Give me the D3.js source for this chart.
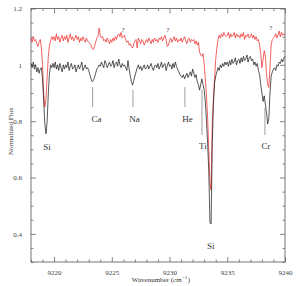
<html>

<head>
    <meta charset="UTF-8">
    <script src="https://d3js.org/d3.v7.min.js"></script>
    <style>
        body { margin: 0; background: #fff; }
        text { font-family: "Liberation Serif", "DejaVu Serif", serif; }
    </style>
</head>

<body>
</body>
<script>
    // spectrum sampled every 0.1 cm^-1 from 9218
    var wnStart = 9218, wnStep = 0.1;

    // lower spectrum (black)
    var blackFlux = [
        1.005, 0.99, 1.01, 0.985, 1.0, 0.975, 0.99, 0.97, 0.985, 0.99,
        0.95, 0.87, 0.79, 0.755, 0.80, 0.90, 0.97, 1.0, 0.99, 1.005,
        0.99, 1.01, 0.985, 1.0, 0.98, 1.005, 0.99, 0.975, 1.0, 0.985,
        1.0, 0.99, 1.01, 0.98, 0.995, 1.005, 0.985, 0.99, 1.0, 0.975,
        0.99, 1.0, 0.985, 0.995, 1.01, 0.98, 0.99, 1.0, 0.985, 0.99,
        0.98, 0.965, 0.95, 0.94, 0.945, 0.955, 0.97, 0.985, 0.99, 1.0,
        0.995, 1.01, 1.0, 0.99, 1.015, 1.005, 0.99, 1.0, 1.01, 0.995,
        1.0, 1.015, 0.99, 1.005, 1.01, 0.995, 1.02, 1.0, 0.99, 1.005,
        0.995, 1.0, 0.99, 0.98, 1.015, 0.985, 0.96, 0.94, 0.928, 0.945,
        0.96, 0.975, 0.99, 1.0, 0.985, 0.995, 0.98, 0.99, 1.0, 0.985,
        0.99, 1.0, 0.985, 0.995, 1.005, 0.99, 0.98, 0.995, 1.0, 0.99,
        1.005, 0.985, 0.995, 1.01, 0.99, 1.0, 1.005, 0.98, 0.995, 1.01,
        0.995, 1.0, 0.985, 1.005, 0.99, 1.01, 0.995, 0.985, 0.975, 0.965,
        0.96, 0.955, 0.965, 0.95, 0.96, 0.97, 0.955, 0.965, 0.975, 0.96,
        0.985, 0.97, 0.955, 0.965, 0.94, 0.93, 0.91, 0.93, 0.95, 0.93,
        0.91, 0.87, 0.80, 0.72, 0.62, 0.44, 0.435, 0.72, 0.86, 0.935,
        0.96, 0.975, 0.99, 0.98, 1.0, 0.99, 1.005, 0.995, 1.01, 1.0,
        1.01, 0.995, 1.015, 1.0, 1.02, 1.005, 1.01, 1.025, 1.0, 1.015,
        1.02, 1.005, 1.025, 1.01, 1.03, 1.015, 1.02, 1.035, 1.01, 1.025,
        1.03, 1.015, 1.02, 1.0, 1.01, 0.995, 1.005, 0.98, 0.965, 0.93,
        0.90, 0.87, 0.89, 0.86, 0.83, 0.79, 0.81, 0.90, 0.96, 0.975,
        0.985, 0.99, 0.98, 1.0, 0.995, 1.01, 1.005, 1.02, 1.01, 1.025,
        1.03
    ];

    // upper spectrum (red)
    var redFlux = [
        1.095, 1.08, 1.1, 1.085, 1.09, 1.075, 1.065, 1.08, 1.09, 1.06,
        1.0, 0.9, 0.85, 0.88, 0.96, 1.03, 1.07, 1.085, 1.1, 1.09,
        1.1, 1.085, 1.11, 1.09, 1.1, 1.08, 1.095, 1.105, 1.085, 1.1,
        1.09, 1.105, 1.08, 1.095, 1.11, 1.09, 1.1, 1.085, 1.095, 1.105,
        1.09, 1.1, 1.08, 1.095, 1.085, 1.1, 1.09, 1.08, 1.095, 1.085,
        1.08, 1.075, 1.07, 1.06, 1.055, 1.065, 1.08, 1.095, 1.1, 1.13,
        1.105, 1.095, 1.1, 1.085, 1.09, 1.08, 1.095, 1.085, 1.075, 1.09,
        1.08, 1.095, 1.085, 1.1, 1.09, 1.105, 1.11, 1.1, 1.115, 1.095,
        1.1, 1.105, 1.09, 1.08, 1.085, 1.07, 1.075, 1.065, 1.06, 1.075,
        1.085, 1.09, 1.06, 1.095, 1.085, 1.075, 1.09, 1.085, 1.07, 1.08,
        1.09, 1.08, 1.095, 1.085, 1.075, 1.09, 1.08, 1.095, 1.085, 1.09,
        1.08, 1.095, 1.09, 1.1, 1.085, 1.095, 1.105, 1.09, 1.065, 1.07,
        1.085, 1.095, 1.08, 1.09, 1.1, 1.085, 1.095, 1.08, 1.09, 1.085,
        1.095, 1.08, 1.09, 1.1, 1.085, 1.075, 1.09, 1.095, 1.08, 1.09,
        1.085, 1.09, 1.075, 1.085, 1.07, 1.08, 1.045, 1.035, 1.03, 1.04,
        1.0, 0.95, 0.89, 0.81, 0.70, 0.58, 0.555, 0.79, 0.88, 0.95,
        1.02, 1.06, 1.09, 1.105, 1.095, 1.11, 1.1, 1.115, 1.105, 1.1,
        1.105, 1.115, 1.095, 1.11, 1.1, 1.105, 1.115, 1.095, 1.11, 1.1,
        1.105, 1.095, 1.11, 1.1, 1.115, 1.09, 1.105, 1.1, 1.11, 1.095,
        1.1, 1.11, 1.095, 1.105, 1.09, 1.1, 1.085, 1.09, 1.07, 1.04,
        0.99, 1.02, 1.05, 1.03, 0.97, 0.93, 0.92, 0.99, 1.07, 1.09,
        1.095, 1.1, 1.11, 1.095, 1.105, 1.12, 1.1, 1.115, 1.105, 1.11,
        1.105
    ];

    // line identifications: marker line (wn, top, bottom) and text (wn, baseline)
    var idNames = ["Si", "Ca", "Na", "He", "Ti", "Si", "Cr"];
    var idLineWn = [null, 9223.34, 9226.83, 9231.33, 9232.81, null, 9238.26];
    var idLineTop = [null, 0.921, 0.911, 0.921, 0.911, null, 0.847];
    var idLineBottom = [null, 0.850, 0.850, 0.850, 0.751, null, 0.751];
    var idTextWn = [9219.39, 9223.67, 9226.96, 9231.55, 9232.89, 9233.58, 9238.35];
    var idTextFlux = [0.698, 0.797, 0.797, 0.797, 0.701, 0.346, 0.701];

    // unidentified features in the red spectrum
    var queryWn = [9225.97, 9229.86, 9238.78];
    var queryFlux = [1.117, 1.117, 1.124];

    var xTicks = [9220, 9225, 9230, 9235, 9240];
    var yTicks = [0.4, 0.6, 0.8, 1, 1.2];

    var margin = { top: 8.5, right: 15, bottom: 24, left: 31 },
        width = 300 - margin.left - margin.right,
        height = 286 - margin.top - margin.bottom;

    var svg = d3.select("body")
        .append("svg")
        .attr("width", 300)
        .attr("height", 286)
        .append("g")
        .attr("transform", "translate(" + margin.left + "," + margin.top + ")");

    var x = d3.scaleLinear().domain([9218, 9240]).range([0, width]);
    var y = d3.scaleLinear().domain([0.3, 1.2]).range([height, 0]);

    var frameColor = "#666";
    var minorX = d3.range(9218, 9240.5, 1).filter(function (d) { return d % 5 !== 0; });
    var minorY = d3.range(0.3, 1.2001, 0.05).map(function (d) { return +d.toFixed(2); })
        .filter(function (d) { return Math.abs(d * 5 - Math.round(d * 5)) > 1e-6; });

    // axes with inward ticks, on all four sides
    function styleAxis(g) {
        g.select(".domain").remove();
        g.selectAll("line").attr("stroke", frameColor).attr("stroke-width", 0.8);
        g.selectAll("text").attr("fill", "#444").style("font-size", "7px");
    }

    svg.append("g").attr("transform", "translate(0," + height + ")")
        .call(d3.axisBottom(x).tickValues(xTicks).tickSize(-5).tickPadding(8).tickFormat(d3.format("d")))
        .call(styleAxis);
    svg.append("g").attr("transform", "translate(0," + height + ")")
        .call(d3.axisBottom(x).tickValues(minorX).tickSize(-2.5).tickFormat(""))
        .call(styleAxis);
    svg.append("g")
        .call(d3.axisTop(x).tickValues(xTicks).tickSize(-5).tickFormat(""))
        .call(styleAxis);
    svg.append("g")
        .call(d3.axisTop(x).tickValues(minorX).tickSize(-2.5).tickFormat(""))
        .call(styleAxis);
    svg.append("g")
        .call(d3.axisLeft(y).tickValues(yTicks).tickSize(-5).tickPadding(9).tickFormat(d3.format("")))
        .call(styleAxis);
    svg.append("g")
        .call(d3.axisLeft(y).tickValues(minorY).tickSize(-2.5).tickFormat(""))
        .call(styleAxis);
    svg.append("g").attr("transform", "translate(" + width + ",0)")
        .call(d3.axisRight(y).tickValues(yTicks).tickSize(-5).tickFormat(""))
        .call(styleAxis);
    svg.append("g").attr("transform", "translate(" + width + ",0)")
        .call(d3.axisRight(y).tickValues(minorY).tickSize(-2.5).tickFormat(""))
        .call(styleAxis);

    svg.append("rect")
        .attr("width", width).attr("height", height)
        .attr("fill", "none").attr("stroke", frameColor).attr("stroke-width", 0.9);

    // spectra
    var line = d3.line()
        .x(function (d, i) { return x(wnStart + i * wnStep); })
        .y(function (d) { return y(d); });

    svg.append("path").datum(redFlux)
        .attr("d", line).attr("fill", "none")
        .attr("stroke", "#f02020").attr("stroke-width", 0.7);
    svg.append("path").datum(blackFlux)
        .attr("d", line).attr("fill", "none")
        .attr("stroke", "#111").attr("stroke-width", 0.7);

    // identifications
    idNames.forEach(function (name, i) {
        if (idLineWn[i] !== null) {
            svg.append("line")
                .attr("x1", x(idLineWn[i])).attr("x2", x(idLineWn[i]))
                .attr("y1", y(idLineTop[i])).attr("y2", y(idLineBottom[i]))
                .attr("stroke", "#888").attr("stroke-width", 0.8);
        }
        svg.append("text")
            .attr("x", x(idTextWn[i])).attr("y", y(idTextFlux[i]))
            .attr("text-anchor", "middle")
            .style("font-size", "9px").attr("fill", "#333")
            .text(name);
    });

    queryWn.forEach(function (w, i) {
        svg.append("text")
            .attr("x", x(w)).attr("y", y(queryFlux[i]))
            .attr("text-anchor", "middle")
            .style("font-size", "7px").attr("fill", "#444")
            .text("?");
    });

    // x axis title, built from pieces so the superscript sits after the text
    var titleY = height + 20;
    var xTitle = svg.append("g");
    var t1 = xTitle.append("text").attr("y", titleY)
        .style("font-size", "7px").attr("fill", "#333").text("Wavenumber (cm");
    var w1 = t1.node().getComputedTextLength();
    var t2 = xTitle.append("text").attr("x", w1 + 0.3).attr("y", titleY - 3)
        .style("font-size", "5px").attr("fill", "#333").text("\u22121");
    var w2 = t2.node().getComputedTextLength();
    var t3 = xTitle.append("text").attr("x", w1 + w2 + 0.8).attr("y", titleY)
        .style("font-size", "7px").attr("fill", "#333").text(")");
    var wAll = w1 + w2 + 0.8 + t3.node().getComputedTextLength();
    xTitle.attr("transform", "translate(" + (width / 2 + 3 - wAll / 2) + ",0)");

    svg.append("text")
        .attr("transform", "translate(" + (-18) + "," + (y(0.75) - 4) + ") rotate(-90)")
        .attr("text-anchor", "middle")
        .style("font-size", "7px").attr("fill", "#333")
        .text("Normalized Flux");
</script>

</html>
